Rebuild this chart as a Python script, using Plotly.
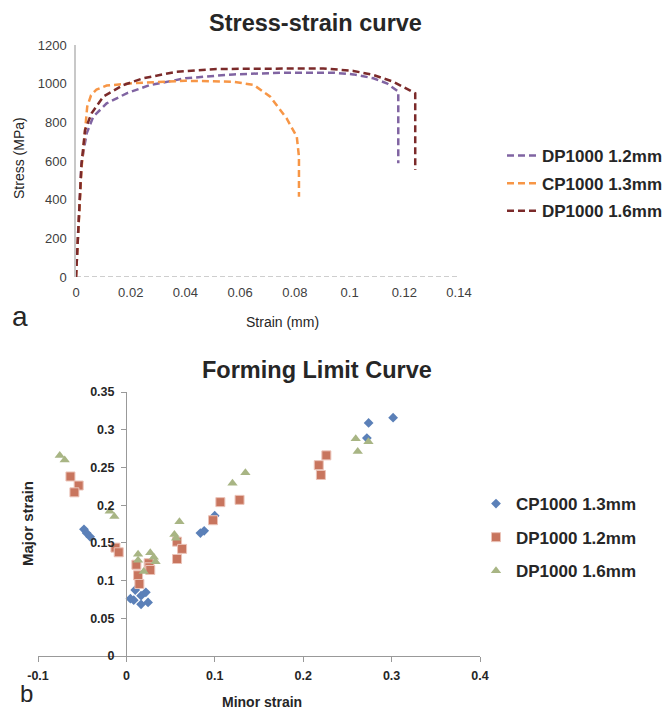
import plotly.graph_objects as go

# ---------------- Stress-strain data ----------------
dp12_strain = [0, 0.001, 0.002, 0.0039, 0.0063, 0.0112, 0.0185, 0.027, 0.040, 0.0575, 0.0758, 0.094, 0.1014, 0.1087, 0.1136, 0.1178, 0.1178]
dp12_stress = [0, 300, 588, 743, 829, 898, 950, 993, 1028, 1048, 1057, 1057, 1048, 1028, 1002, 959, 588]

cp13_strain = [0, 0.002, 0.003, 0.0041, 0.0055, 0.0075, 0.0112, 0.021, 0.040, 0.0575, 0.065, 0.071, 0.077, 0.0807, 0.0815, 0.0815]
cp13_stress = [0, 560, 708, 881, 940, 970, 990, 1003, 1015, 1010, 993, 933, 820, 726, 622, 415]

dp16_strain = [0, 0.002, 0.0033, 0.0057, 0.010, 0.0173, 0.0246, 0.0368, 0.0514, 0.0697, 0.0904, 0.1014, 0.1087, 0.116, 0.124, 0.124]
dp16_stress = [0, 580, 760, 847, 933, 993, 1028, 1062, 1076, 1079, 1079, 1066, 1045, 1010, 950, 553]

ss_xticks = [0, 0.02, 0.04, 0.06, 0.08, 0.1, 0.12, 0.14]
ss_xticktext = ["0", "0.02", "0.04", "0.06", "0.08", "0.1", "0.12", "0.14"]
ss_yticks = [0, 200, 400, 600, 800, 1000, 1200]

# ---------------- Forming limit data ----------------
cp13_minor = [0.3017, 0.274, 0.272, 0.0999, 0.088, 0.0837, -0.048, -0.045, -0.041,
              0.0045, 0.0083, 0.010, 0.0166, 0.0166, 0.022, 0.0245]
cp13_major = [0.316, 0.309, 0.289, 0.186, 0.166, 0.163, 0.168, 0.163, 0.158,
              0.076, 0.074, 0.0875, 0.080, 0.0686, 0.0845, 0.071]

dp12_minor = [-0.0633, -0.054, -0.0588, -0.0124, -0.0087, 0.0113, 0.0132, 0.0147, 0.0252, 0.026, 0.027,
              0.0573, 0.063, 0.0573, 0.098, 0.1063, 0.128, 0.2176, 0.220, 0.2262]
dp12_major = [0.238, 0.226, 0.217, 0.1437, 0.1375, 0.121, 0.107, 0.0955, 0.123, 0.1176, 0.114,
              0.1516, 0.142, 0.1286, 0.180, 0.204, 0.207, 0.253, 0.240, 0.266]

dp16_minor = [-0.0754, -0.0698, -0.0189, -0.0136, 0.0132, 0.0132, 0.0196, 0.027, 0.031, 0.033,
              0.0543, 0.0562, 0.060, 0.120, 0.1346, 0.2594, 0.2617, 0.2738]
dp16_major = [0.2657, 0.260, 0.192, 0.185, 0.135, 0.127, 0.112, 0.137, 0.131, 0.125,
              0.161, 0.156, 0.178, 0.229, 0.243, 0.288, 0.271, 0.284]

fl_xticks = [-0.1, 0, 0.1, 0.2, 0.3, 0.4]
fl_xticktext = ["-0.1", "0", "0.1", "0.2", "0.3", "0.4"]
fl_yticks = [0, 0.05, 0.1, 0.15, 0.2, 0.25, 0.3, 0.35]
fl_yticktext = ["0", "0.05", "0.1", "0.15", "0.2", "0.25", "0.3", "0.35"]

W, H = 667, 710
def px(x):
    return x / W
def py(y):
    return 1 - y / H

FONT = "Liberation Sans, Arial, sans-serif"

fig = go.Figure()

dash = "7px,4px"
fig.add_trace(go.Scatter(x=dp12_strain, y=dp12_stress, mode="lines", name="DP1000 1.2mm",
                         line=dict(color="#8064A2", width=2.5, dash=dash),
                         xaxis="x", yaxis="y", legend="legend", legendgroup="a"))
fig.add_trace(go.Scatter(x=cp13_strain, y=cp13_stress, mode="lines", name="CP1000 1.3mm",
                         line=dict(color="#F79646", width=2.5, dash=dash),
                         xaxis="x", yaxis="y", legend="legend", legendgroup="b"))
fig.add_trace(go.Scatter(x=dp16_strain, y=dp16_stress, mode="lines", name="DP1000 1.6mm",
                         line=dict(color="#7B2A2A", width=2.5, dash=dash),
                         xaxis="x", yaxis="y", legend="legend", legendgroup="c"))

fig.add_trace(go.Scatter(x=cp13_minor, y=cp13_major, mode="markers", name="CP1000 1.3mm",
                         marker=dict(symbol="diamond", size=7.5, color="#5B80B8"),
                         xaxis="x2", yaxis="y2", legend="legend2", legendgroup="d"))
fig.add_trace(go.Scatter(x=dp12_minor, y=dp12_major, mode="markers", name="DP1000 1.2mm",
                         marker=dict(symbol="square", size=9, color="#C8755E",
                                     line=dict(color="#EBC3B8", width=1)),
                         xaxis="x2", yaxis="y2", legend="legend2", legendgroup="e"))
fig.add_trace(go.Scatter(x=dp16_minor, y=dp16_major, mode="markers", name="DP1000 1.6mm",
                         marker=dict(symbol="triangle-up", size=9, color="#A8B584"),
                         xaxis="x2", yaxis="y2", legend="legend2", legendgroup="f"))

def ann(text, x, y, size, angle=0, yanchor="middle"):
    return dict(text=text, x=px(x), y=py(y), xref="paper", yref="paper",
                xanchor="center", yanchor=yanchor, textangle=angle,
                showarrow=False, font=dict(size=size, color="#262626"))

fig.update_layout(
    width=W, height=H,
    margin=dict(l=0, r=0, t=0, b=0, pad=0, autoexpand=False),
    paper_bgcolor="white", plot_bgcolor="white",
    font=dict(family=FONT, color="#262626"),
    showlegend=True,
    xaxis=dict(domain=[px(76), px(459)], range=[0, 0.14], tickvals=ss_xticks, ticktext=ss_xticktext,
               showgrid=False, zeroline=False, showline=False, ticks="", automargin=False,
               ticklabelstandoff=6,
               tickfont=dict(size=13, color="#404040"), anchor="y"),
    yaxis=dict(domain=[py(277), py(45)], range=[0, 1200], tickvals=ss_yticks,
               showgrid=False, zeroline=False, showline=True, linecolor="#C8C8C8", linewidth=1.5,
               ticks="", automargin=False, ticklabelstandoff=5,
               tickfont=dict(size=13, color="#404040"), anchor="x"),
    xaxis2=dict(domain=[px(38), px(480)], range=[-0.1, 0.4], tickvals=fl_xticks, ticktext=fl_xticktext,
                showgrid=False, zeroline=False, showline=True, linecolor="#999999", linewidth=1,
                ticks="outside", ticklen=5, tickcolor="#999999", automargin=False,
                ticklabelstandoff=3,
                tickfont=dict(size=12.5, color="#262626", family="Liberation Sans", weight="bold"),
                anchor="y2"),
    yaxis2=dict(domain=[py(656), py(392)], range=[0, 0.35], tickvals=fl_yticks, ticktext=fl_yticktext,
                showgrid=False, zeroline=False, showline=True, linecolor="#999999", linewidth=1,
                ticks="outside", ticklen=5, tickcolor="#999999", automargin=False,
                ticklabelstandoff=4,
                tickfont=dict(size=12.5, color="#262626", family="Liberation Sans", weight="bold"),
                anchor="free", position=px(126)),
    legend=dict(x=px(502), y=py(138), xanchor="left", yanchor="top", bgcolor="rgba(0,0,0,0)",
                font=dict(size=17, color="#262626", weight="bold"), tracegroupgap=2.5,
                traceorder="grouped"),
    legend2=dict(x=px(476), y=py(486), xanchor="left", yanchor="top", bgcolor="rgba(0,0,0,0)",
                 font=dict(size=17, color="#262626", weight="bold"), tracegroupgap=8.5,
                 traceorder="grouped"),
    shapes=[dict(type="line", xref="x", yref="y", x0=0, x1=0.14, y0=0, y1=0,
                 line=dict(color="#BFBFBF", width=1.5, dash="5px,3px"), layer="below")],
    annotations=[
        ann("<b>Stress-strain curve</b>", 315, 23, 23.5),
        ann("<b>Forming Limit Curve</b>", 317, 370, 23.5),
        ann("Strain (mm)", 282, 322, 14),
        ann("Stress (MPa)", 19, 158, 14, -90),
        ann("<b>Minor strain</b>", 262, 702, 14),
        ann("<b>Major strain</b>", 27, 523, 15, -90),
        ann("a", 20, 316, 28),
        ann("b", 26, 709, 24, yanchor="bottom"),
    ],
)

fig.write_html("out.html")
